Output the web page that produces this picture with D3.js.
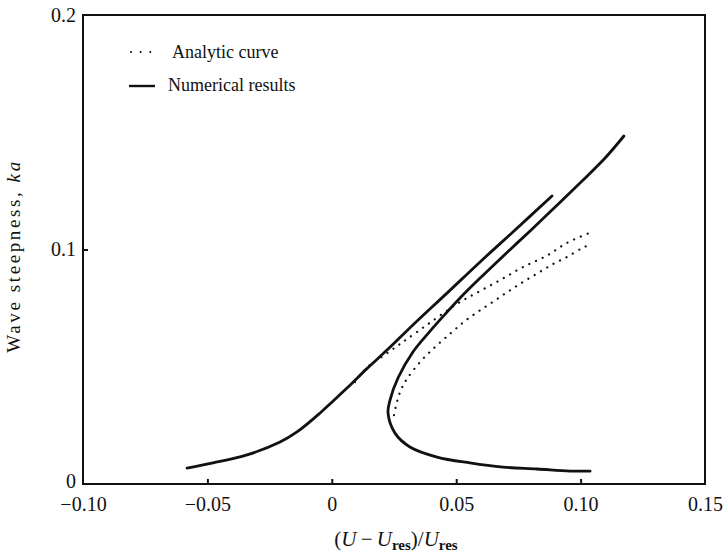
<!DOCTYPE html>
<html>
<head>
<meta charset="utf-8">
<script src="https://cdn.jsdelivr.net/npm/d3@7"></script>
<style>
  body { margin: 0; background: #fff; }
  svg text { font-family: "Liberation Serif", "DejaVu Serif", serif; fill: #111; }
</style>
</head>
<body>
<div class="canvas"></div>
<script>
//Data
var xTicks = [-0.10, -0.05, 0, 0.05, 0.10, 0.15];
var yTicks = [0, 0.1, 0.2];

// numerical results, lower-left branch
var numLeftX = [-0.0582, -0.0477, -0.0341, -0.0208, -0.0140, -0.0047, 0.0061, 0.0141, 0.0222, 0.0326, 0.0463, 0.0596, 0.0728, 0.0885];
var numLeftY = [0.0068, 0.0090, 0.0124, 0.0179, 0.0222, 0.0303, 0.0409, 0.0492, 0.0571, 0.0678, 0.0814, 0.0947, 0.1075, 0.1228];

// numerical results, folded branch (top end -> nose -> bottom end)
var numRightX = [0.1174, 0.1106, 0.1010, 0.0885, 0.0797, 0.0728, 0.0664, 0.0596, 0.0527, 0.0463, 0.0395, 0.0326, 0.0266, 0.0234, 0.0226, 0.0254, 0.0314, 0.0423, 0.0555, 0.0688, 0.0825, 0.0957, 0.1038];
var numRightY = [0.1484, 0.1399, 0.1296, 0.1168, 0.1079, 0.1011, 0.0947, 0.0878, 0.0806, 0.0733, 0.0652, 0.0563, 0.0452, 0.0358, 0.0303, 0.0217, 0.0158, 0.0115, 0.0090, 0.0072, 0.0064, 0.0055, 0.0055];

// analytic curve, upper branch
var anaUpX = [0.0093, 0.0145, 0.0206, 0.0262, 0.0302, 0.0387, 0.0503, 0.0596, 0.0684, 0.0768, 0.0861, 0.0945, 0.1034];
var anaUpY = [0.0435, 0.0500, 0.0546, 0.0588, 0.0618, 0.0682, 0.0768, 0.0823, 0.0874, 0.0925, 0.0972, 0.1028, 0.1070];

// analytic curve, lower branch
var anaLowX = [0.0250, 0.0262, 0.0278, 0.0302, 0.0359, 0.0419, 0.0479, 0.0535, 0.0592, 0.0652, 0.0712, 0.0768, 0.0829, 0.0889, 0.0945, 0.1006, 0.1034];
var anaLowY = [0.0294, 0.0350, 0.0401, 0.0448, 0.0525, 0.0588, 0.0644, 0.0695, 0.0738, 0.0780, 0.0823, 0.0861, 0.0900, 0.0938, 0.0968, 0.1006, 0.1019];

var legendLabels = ['Analytic curve', 'Numerical results'];

//Set up the drawing environment
var W = 728, H = 555;
var margin = {t:15, r:23, b:71, l:83};
var width = W - margin.l - margin.r,
	height = H - margin.t - margin.b;

var svg = d3.select('.canvas')
	.append('svg')
	.attr('width', W)
	.attr('height', H);

var plot = svg.append('g')
	.attr('transform', 'translate(' + margin.l + ',' + margin.t + ')');

var x = d3.scaleLinear().domain([-0.10, 0.15]).range([0, width]);
var y = d3.scaleLinear().domain([0, 0.2]).range([height, 0]);

function pts(xs, ys){
	return xs.map(function(d, i){ return [d, ys[i]]; });
}

var line = d3.line()
	.x(function(d){ return x(d[0]); })
	.y(function(d){ return y(d[1]); })
	.curve(d3.curveCatmullRom.alpha(0.5));

//axes
var fmtX = function(d){ return d === 0 ? '0' : d3.format('.2f')(d); };
var fmtY = function(d){ return d === 0 ? '0' : d3.format('.1f')(d); };

var xAxis = plot.append('g')
	.attr('transform', 'translate(0,' + height + ')')
	.call(d3.axisBottom(x).tickValues(xTicks).tickFormat(fmtX).tickSizeInner(-5).tickSizeOuter(0).tickPadding(13));

var yAxis = plot.append('g')
	.call(d3.axisLeft(y).tickValues(yTicks).tickFormat(fmtY).tickSizeInner(-5).tickSizeOuter(0).tickPadding(7));

[xAxis, yAxis].forEach(function(a){
	a.select('.domain').remove();
	a.selectAll('line').attr('stroke', '#111').attr('stroke-width', 2);
	a.selectAll('text').style('font-size', '20px').style('font-family', '"Liberation Serif", serif').attr('fill', '#111');
});
yAxis.selectAll('text').attr('dy', '0.3em');
yAxis.selectAll('.tick').filter(function(d){ return d === 0; }).select('text').attr('dy', '0.18em');
// the end ticks sit on the frame corners
xAxis.selectAll('.tick').filter(function(d){ return d === -0.10 || d === 0.15; }).select('line').remove();
yAxis.selectAll('.tick').filter(function(d){ return d === 0 || d === 0.2; }).select('line').remove();

//frame
plot.append('rect')
	.attr('x', 0).attr('y', 0)
	.attr('width', width).attr('height', height)
	.attr('fill', 'none')
	.attr('stroke', '#111')
	.attr('stroke-width', 2);

//analytic curves (dotted)
[pts(anaUpX, anaUpY), pts(anaLowX, anaLowY)].forEach(function(p){
	plot.append('path')
		.attr('d', line(p))
		.attr('fill', 'none')
		.attr('stroke', '#111')
		.attr('stroke-width', 2.2)
		.attr('stroke-linecap', 'round')
		.attr('stroke-dasharray', '0.1,7.2');
});

//numerical results (solid)
[pts(numLeftX, numLeftY), pts(numRightX, numRightY)].forEach(function(p){
	plot.append('path')
		.attr('d', line(p))
		.attr('fill', 'none')
		.attr('stroke', '#111')
		.attr('stroke-width', 2.8)
		.attr('stroke-linecap', 'round')
		.attr('stroke-linejoin', 'round');
});

//legend
var legend = svg.append('g');
legend.append('line')
	.attr('x1', 131).attr('x2', 152).attr('y1', 52).attr('y2', 52)
	.attr('stroke', '#111').attr('stroke-width', 2)
	.attr('stroke-linecap', 'round')
	.attr('stroke-dasharray', '0.1,9.5');
legend.append('line')
	.attr('x1', 129).attr('x2', 155).attr('y1', 86).attr('y2', 86)
	.attr('stroke', '#111').attr('stroke-width', 2.4);
legend.append('text')
	.attr('x', 172).attr('y', 58)
	.style('font-size', '18px')
	.text(legendLabels[0]);
legend.append('text')
	.attr('x', 168).attr('y', 91)
	.style('font-size', '18px')
	.text(legendLabels[1]);

//axis titles
var xt = svg.append('text')
	.attr('x', 396).attr('y', 546)
	.attr('text-anchor', 'middle')
	.style('font-size', '21px');
xt.append('tspan').text('(');
xt.append('tspan').style('font-style', 'italic').text('U');
xt.append('tspan').text('\u2009\u2212\u2009');
xt.append('tspan').style('font-style', 'italic').text('U');
xt.append('tspan').attr('dy', 4).style('font-size', '15px').style('font-weight', 'bold').text('res');
xt.append('tspan').attr('dy', -4).text(')/');
xt.append('tspan').style('font-style', 'italic').text('U');
xt.append('tspan').attr('dy', 4).style('font-size', '15px').style('font-weight', 'bold').text('res');

var yt = svg.append('text')
	.attr('transform', 'translate(20,256) rotate(-90)')
	.attr('text-anchor', 'middle')
	.style('font-size', '19px')
	.style('letter-spacing', '2.6px');
yt.append('tspan').text('Wave steepness, ');
yt.append('tspan').style('font-style', 'italic').text('ka');
</script>
</body>
</html>
